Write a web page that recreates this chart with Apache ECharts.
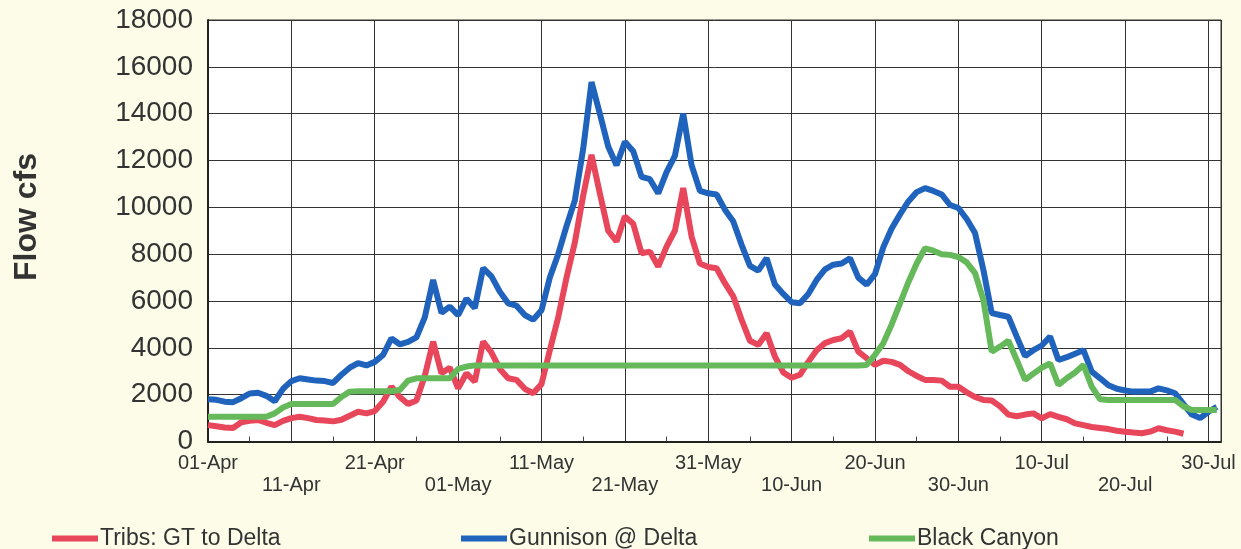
<!DOCTYPE html>
<html>
<head>
<meta charset="utf-8">
<script src="https://cdn.jsdelivr.net/npm/echarts@6/dist/echarts.min.js"></script>
<style>
html,body{margin:0;padding:0;background:#fcfce8;}
#chart{width:1241px;height:549px;}
</style>
</head>
<body>
<div id="chart"></div>
<script>
// x-axis tick labels, one every 10 days starting 01-Apr (day 0)
const tickLabels = ['01-Apr','11-Apr','21-Apr','01-May','11-May','21-May','31-May','10-Jun','20-Jun','30-Jun','10-Jul','20-Jul','30-Jul'];
const seriesNames = ['Tribs: GT to Delta','Gunnison @ Delta','Black Canyon'];
const yTitle = 'Flow cfs';

// daily flows (cfs), index = days since 01-Apr
const tribs = [700,650,600,580,820,880,920,800,700,880,1000,1060,1000,920,900,860,930,1100,1270,1200,
  1300,1700,2340,1900,1600,1750,2800,4265,2915,3150,2270,2915,2555,4265,3800,3100,2700,2630,2250,2060,
  2450,3900,5300,7000,8500,10500,12240,10600,9000,8540,9610,9300,8040,8110,7470,8325,9000,10820,8750,7600,
  7450,7400,6760,6200,5200,4300,4125,4620,3625,2950,2720,2850,3400,3900,4200,4335,4410,4690,3840,3555,
  3270,3450,3400,3270,3000,2800,2630,2630,2600,2340,2340,2100,1900,1775,1750,1500,1150,1080,1150,1200,
  990,1170,1050,950,775,700,620,580,530,460,420,380,350,420,565,480,420,330];

const gunnison = [1800,1780,1700,1680,1850,2050,2080,1950,1720,2250,2580,2700,2650,2600,2580,2500,2850,3150,3350,3250,
  3400,3700,4400,4150,4250,4450,5300,6900,5500,5760,5400,6100,5700,7400,7050,6400,5900,5800,5400,5200,
  5600,7000,8000,9200,10300,12500,15350,14000,12600,11800,12800,12400,11300,11200,10600,11500,12200,14000,11800,10700,
  10600,10550,9900,9400,8400,7500,7300,7830,6700,6300,5950,5900,6300,6900,7350,7550,7600,7830,7000,6700,
  7150,8300,9100,9700,10250,10650,10820,10700,10550,10100,9970,9500,8900,7330,5480,5400,5330,4480,3650,3900,
  4100,4480,3480,3600,3750,3900,2980,2700,2400,2250,2180,2130,2130,2130,2270,2180,2060,1600,1150,1000,
  1270,1480];

const blackCanyon = [1060,1060,1060,1060,1060,1060,1060,1060,1200,1450,1600,1600,1600,1600,1600,1600,1900,2130,2150,2150,
  2150,2150,2150,2200,2600,2700,2700,2700,2700,2700,3100,3200,3250,3250,3250,3250,3250,3250,3250,3250,
  3250,3250,3250,3250,3250,3250,3250,3250,3250,3250,3250,3250,3250,3250,3250,3250,3250,3250,3250,3250,
  3250,3250,3250,3250,3250,3250,3250,3250,3250,3250,3250,3250,3250,3250,3250,3250,3250,3250,3250,3270,
  3700,4200,5000,5900,6800,7600,8250,8150,8000,7970,7880,7650,7190,6045,3840,4050,4300,3480,2630,2900,
  3150,3340,2415,2700,2950,3270,2340,1800,1775,1775,1775,1775,1775,1775,1775,1775,1775,1500,1345,1345,
  1345,1345];

const colors = ['#e8465a','#1f63bd','#66b95a'];
const toXY = arr => arr.map((v, i) => [i, v]);

const chart = echarts.init(document.getElementById('chart'), null, {renderer: 'canvas'});
const fontFam = '"Liberation Sans", Arial, sans-serif';

function legendFor(name, left) {
  return {
    data: [name], left: left, top: 527, icon: 'rect', itemWidth: 46, itemHeight: 6,
    itemGap: 0, padding: 0,
    textStyle: {fontFamily: fontFam, fontSize: 23, color: '#333', padding: [0, 0, 0, -3]}
  };
}

chart.setOption({
  backgroundColor: '#fcfce8',
  animation: false,
  color: colors,
  grid: {left: 208, right: 20, top: 20, bottom: 107.5, containLabel: false, outerBoundsMode: 'none',
    show: true, backgroundColor: '#ffffff', borderColor: '#333', borderWidth: 1},
  legend: [legendFor(seriesNames[0], 52), legendFor(seriesNames[1], 461), legendFor(seriesNames[2], 869)],
  graphic: [{
    type: 'text', x: 27, y: 217, rotation: Math.PI / 2,
    style: {text: yTitle, font: 'bold 32px "Liberation Sans", Arial, sans-serif', fill: '#333',
      textAlign: 'center', textVerticalAlign: 'middle'}
  }],
  xAxis: {
    type: 'value', min: 0, max: 121.5, interval: 10,
    axisLine: {show: true, lineStyle: {color: '#222', width: 2}},
    axisTick: {show: false, inside: true},
    minorTick: {show: true, splitNumber: 2, length: 5, lineStyle: {color: '#444', width: 1}},
    splitLine: {show: true, lineStyle: {color: '#333', width: 1}},
    axisLabel: {
      fontFamily: fontFam, fontSize: 20, color: '#333', margin: 11, lineHeight: 22,
      showMaxLabel: true,
      formatter: function (v) {
        if (v % 10 !== 0) return '';
        const i = Math.round(v / 10);
        const s = tickLabels[i] || '';
        return i % 2 === 1 ? '\n' + s : s;
      }
    }
  },
  yAxis: {
    type: 'value', min: 0, max: 18000, interval: 2000,
    axisLine: {show: true, lineStyle: {color: '#222', width: 2}},
    axisTick: {show: false},
    splitLine: {show: true, lineStyle: {color: '#333', width: 1}},
    axisLabel: {fontFamily: fontFam, fontSize: 28, color: '#333', margin: 15, formatter: v => String(v)}
  },
  series: [
    {name: seriesNames[0], type: 'line', data: toXY(tribs), showSymbol: false, lineStyle: {width: 6, color: colors[0]}, itemStyle: {color: colors[0]}},
    {name: seriesNames[1], type: 'line', data: toXY(gunnison), showSymbol: false, lineStyle: {width: 6, color: colors[1]}, itemStyle: {color: colors[1]}},
    {name: seriesNames[2], type: 'line', data: toXY(blackCanyon), showSymbol: false, lineStyle: {width: 6, color: colors[2]}, itemStyle: {color: colors[2]}}
  ]
});
</script>
</body>
</html>
